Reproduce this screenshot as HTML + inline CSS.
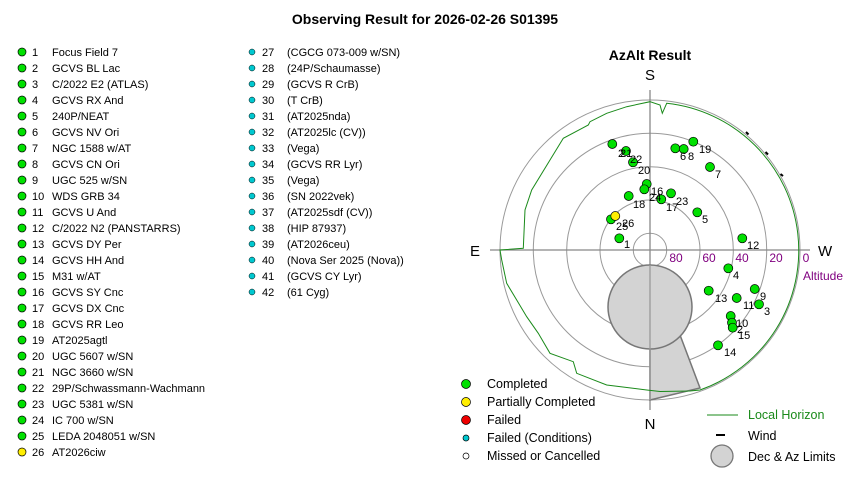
<!DOCTYPE html>
<html><head><meta charset="utf-8"><style>
body{margin:0;background:#fff;width:850px;height:480px;overflow:hidden;font-family:"Liberation Sans",Arial,sans-serif}
</style></head><body>
<svg width="850" height="480" xmlns="http://www.w3.org/2000/svg" font-family="Liberation Sans, Arial, sans-serif">
<text x="425" y="24" font-size="14" font-weight="bold" text-anchor="middle">Observing Result for 2026-02-26 S01395</text>
<text x="650" y="60" font-size="14" font-weight="bold" text-anchor="middle">AzAlt Result</text>
<g font-size="11">
<g fill="#00e000" stroke="#000" stroke-width="0.7">
<circle cx="22" cy="52" r="4"/><circle cx="22" cy="68" r="4"/><circle cx="22" cy="84" r="4"/><circle cx="22" cy="100" r="4"/><circle cx="22" cy="116" r="4"/><circle cx="22" cy="132" r="4"/><circle cx="22" cy="148" r="4"/><circle cx="22" cy="164" r="4"/><circle cx="22" cy="180" r="4"/><circle cx="22" cy="196" r="4"/><circle cx="22" cy="212" r="4"/><circle cx="22" cy="228" r="4"/><circle cx="22" cy="244" r="4"/><circle cx="22" cy="260" r="4"/><circle cx="22" cy="276" r="4"/><circle cx="22" cy="292" r="4"/><circle cx="22" cy="308" r="4"/><circle cx="22" cy="324" r="4"/><circle cx="22" cy="340" r="4"/><circle cx="22" cy="356" r="4"/><circle cx="22" cy="372" r="4"/><circle cx="22" cy="388" r="4"/><circle cx="22" cy="404" r="4"/><circle cx="22" cy="420" r="4"/><circle cx="22" cy="436" r="4"/>
<circle cx="22" cy="452" r="4" fill="#ffee00"/>
</g>
<g fill="#00c8d0" stroke="#000" stroke-width="0.5">
<circle cx="252" cy="52" r="3"/><circle cx="252" cy="68" r="3"/><circle cx="252" cy="84" r="3"/><circle cx="252" cy="100" r="3"/><circle cx="252" cy="116" r="3"/><circle cx="252" cy="132" r="3"/><circle cx="252" cy="148" r="3"/><circle cx="252" cy="164" r="3"/><circle cx="252" cy="180" r="3"/><circle cx="252" cy="196" r="3"/><circle cx="252" cy="212" r="3"/><circle cx="252" cy="228" r="3"/><circle cx="252" cy="244" r="3"/><circle cx="252" cy="260" r="3"/><circle cx="252" cy="276" r="3"/><circle cx="252" cy="292" r="3"/>
</g>
<g>
<text x="32" y="56">1</text><text x="52" y="56">Focus Field 7</text>
<text x="32" y="72">2</text><text x="52" y="72">GCVS BL Lac</text>
<text x="32" y="88">3</text><text x="52" y="88">C/2022 E2 (ATLAS)</text>
<text x="32" y="104">4</text><text x="52" y="104">GCVS RX And</text>
<text x="32" y="120">5</text><text x="52" y="120">240P/NEAT</text>
<text x="32" y="136">6</text><text x="52" y="136">GCVS NV Ori</text>
<text x="32" y="152">7</text><text x="52" y="152">NGC 1588 w/AT</text>
<text x="32" y="168">8</text><text x="52" y="168">GCVS CN Ori</text>
<text x="32" y="184">9</text><text x="52" y="184">UGC 525 w/SN</text>
<text x="32" y="200">10</text><text x="52" y="200">WDS GRB 34</text>
<text x="32" y="216">11</text><text x="52" y="216">GCVS U And</text>
<text x="32" y="232">12</text><text x="52" y="232">C/2022 N2 (PANSTARRS)</text>
<text x="32" y="248">13</text><text x="52" y="248">GCVS DY Per</text>
<text x="32" y="264">14</text><text x="52" y="264">GCVS HH And</text>
<text x="32" y="280">15</text><text x="52" y="280">M31 w/AT</text>
<text x="32" y="296">16</text><text x="52" y="296">GCVS SY Cnc</text>
<text x="32" y="312">17</text><text x="52" y="312">GCVS DX Cnc</text>
<text x="32" y="328">18</text><text x="52" y="328">GCVS RR Leo</text>
<text x="32" y="344">19</text><text x="52" y="344">AT2025agtl</text>
<text x="32" y="360">20</text><text x="52" y="360">UGC 5607 w/SN</text>
<text x="32" y="376">21</text><text x="52" y="376">NGC 3660 w/SN</text>
<text x="32" y="392">22</text><text x="52" y="392">29P/Schwassmann-Wachmann</text>
<text x="32" y="408">23</text><text x="52" y="408">UGC 5381 w/SN</text>
<text x="32" y="424">24</text><text x="52" y="424">IC 700 w/SN</text>
<text x="32" y="440">25</text><text x="52" y="440">LEDA 2048051 w/SN</text>
<text x="32" y="456">26</text><text x="52" y="456">AT2026ciw</text>
<text x="262" y="56">27</text><text x="287" y="56">(CGCG 073-009 w/SN)</text>
<text x="262" y="72">28</text><text x="287" y="72">(24P/Schaumasse)</text>
<text x="262" y="88">29</text><text x="287" y="88">(GCVS R CrB)</text>
<text x="262" y="104">30</text><text x="287" y="104">(T CrB)</text>
<text x="262" y="120">31</text><text x="287" y="120">(AT2025nda)</text>
<text x="262" y="136">32</text><text x="287" y="136">(AT2025lc (CV))</text>
<text x="262" y="152">33</text><text x="287" y="152">(Vega)</text>
<text x="262" y="168">34</text><text x="287" y="168">(GCVS RR Lyr)</text>
<text x="262" y="184">35</text><text x="287" y="184">(Vega)</text>
<text x="262" y="200">36</text><text x="287" y="200">(SN 2022vek)</text>
<text x="262" y="216">37</text><text x="287" y="216">(AT2025sdf (CV))</text>
<text x="262" y="232">38</text><text x="287" y="232">(HIP 87937)</text>
<text x="262" y="248">39</text><text x="287" y="248">(AT2026ceu)</text>
<text x="262" y="264">40</text><text x="287" y="264">(Nova Ser 2025 (Nova))</text>
<text x="262" y="280">41</text><text x="287" y="280">(GCVS CY Lyr)</text>
<text x="262" y="296">42</text><text x="287" y="296">(61 Cyg)</text>
</g>
</g>
<g fill="none" stroke="#999" stroke-width="1">
<circle cx="650" cy="250" r="150"/><circle cx="650" cy="250" r="116.7"/><circle cx="650" cy="250" r="83.3"/><circle cx="650" cy="250" r="50"/><circle cx="650" cy="250" r="16.7"/>
</g>
<g stroke="#888" stroke-width="1.3">
<line x1="650" y1="90" x2="650" y2="410"/><line x1="490" y1="250" x2="810" y2="250"/>
</g>
<polygon points="650,345 680,335 700,388 650,400" fill="#d3d3d3" stroke="#777" stroke-width="1.5"/>
<circle cx="650" cy="307" r="42" fill="#d3d3d3" stroke="#777" stroke-width="1.5"/>
<line x1="650" y1="265" x2="650" y2="400" stroke="#999" stroke-width="1.3"/>
<path d="M646.7,390 L606.7,385 L576.7,373.3 L573.3,361.7 L550,353.3 L538.3,333.3 L526.7,316.7 L516.7,300 L506.7,283.3 L501.7,260 L500,250 L523.3,248.3 L525,210 L531.7,190 L550,160 L563.3,138.3 L588.3,125 L590,121.7 L606.7,113.3 L626.7,106.7 L650,101.7 L660,105 L662.3,113.3 L666.7,103.3 A148,148 0 0 1 700,390 L690,391 L660,391.5 Z" fill="none" stroke="#1a8a1a" stroke-width="1"/>
<g stroke="#000" stroke-width="2"><line x1="746" y1="132" x2="748.5" y2="134.5"/><line x1="765.5" y1="152" x2="768" y2="154.5"/><line x1="780.5" y1="174" x2="783" y2="176"/></g>
<g font-size="15" fill="#000"><text x="650" y="80" text-anchor="middle">S</text><text x="650" y="429" text-anchor="middle">N</text><text x="470" y="256">E</text><text x="818" y="256">W</text></g>
<g font-size="12" fill="#800080"><text x="676" y="262" text-anchor="middle">80</text><text x="709" y="262" text-anchor="middle">60</text><text x="742" y="262" text-anchor="middle">40</text><text x="776" y="262" text-anchor="middle">20</text><text x="806" y="262" text-anchor="middle">0</text><text x="803" y="280">Altitude</text></g>
<g fill="#00e000" stroke="#000" stroke-width="0.7">
<circle cx="619.3" cy="238.3" r="4.5"/><circle cx="612.3" cy="144" r="4.5"/><circle cx="626" cy="151" r="4.5"/><circle cx="633" cy="162.3" r="4.5"/><circle cx="646.7" cy="184" r="4.5"/><circle cx="644.3" cy="189.3" r="4.5"/><circle cx="628.7" cy="196" r="4.5"/><circle cx="661.3" cy="199.3" r="4.5"/><circle cx="671" cy="193.3" r="4.5"/><circle cx="697.3" cy="212.3" r="4.5"/><circle cx="611" cy="219.3" r="4.5"/><circle cx="675.3" cy="148.3" r="4.5"/><circle cx="683.7" cy="149" r="4.5"/><circle cx="693.3" cy="141.7" r="4.5"/><circle cx="710" cy="167" r="4.5"/><circle cx="742.3" cy="238.3" r="4.5"/><circle cx="728.3" cy="268.3" r="4.5"/><circle cx="708.7" cy="290.7" r="4.5"/><circle cx="754.7" cy="289" r="4.5"/><circle cx="736.7" cy="298" r="4.5"/><circle cx="759" cy="304.3" r="4.5"/><circle cx="730.7" cy="316" r="4.5"/><circle cx="732" cy="322.7" r="4.5"/><circle cx="732.7" cy="327.7" r="4.5"/><circle cx="718" cy="345.3" r="4.5"/>
<circle cx="615.3" cy="216" r="4.5" fill="#ffee00"/>
</g>
<g font-size="11" fill="#000">
<text x="624" y="248">1</text><text x="618" y="157">2</text><text x="620" y="157">21</text><text x="630" y="163">22</text><text x="638" y="174">20</text><text x="651" y="195">16</text><text x="649" y="201">24</text><text x="633" y="208">18</text><text x="666" y="211">17</text><text x="676" y="205">23</text><text x="702" y="223">5</text><text x="616" y="230">25</text><text x="622" y="227">26</text><text x="680" y="160">6</text><text x="688" y="160">8</text><text x="699" y="153">19</text><text x="715" y="178">7</text><text x="747" y="249">12</text><text x="733" y="279">4</text><text x="715" y="302">13</text><text x="760" y="300">9</text><text x="743" y="309">11</text><text x="764" y="315">3</text><text x="736" y="327">10</text><text x="737" y="333">2</text><text x="738" y="339">15</text><text x="724" y="356">14</text>
</g>
<g stroke="#000" stroke-width="0.7">
<circle cx="466" cy="384" r="4.5" fill="#00e000"/><circle cx="466" cy="402" r="4.5" fill="#ffee00"/><circle cx="466" cy="420" r="4.5" fill="#ee0000"/><circle cx="466" cy="438" r="3" fill="#00c8d0"/><circle cx="466" cy="456" r="3" fill="#fff"/>
</g>
<g font-size="12.5" fill="#000"><text x="487" y="388">Completed</text><text x="487" y="406">Partially Completed</text><text x="487" y="424">Failed</text><text x="487" y="442">Failed (Conditions)</text><text x="487" y="460">Missed or Cancelled</text>
<text x="748" y="419" fill="#1a8a1a">Local Horizon</text><text x="748" y="440">Wind</text><text x="748" y="461">Dec &amp; Az Limits</text></g>
<line x1="707" y1="415" x2="738" y2="415" stroke="#1a8a1a" stroke-width="1"/>
<line x1="716" y1="435" x2="725" y2="435" stroke="#000" stroke-width="2"/>
<circle cx="722" cy="456" r="11" fill="#d3d3d3" stroke="#777" stroke-width="1.3"/>
</svg>
</body></html>
